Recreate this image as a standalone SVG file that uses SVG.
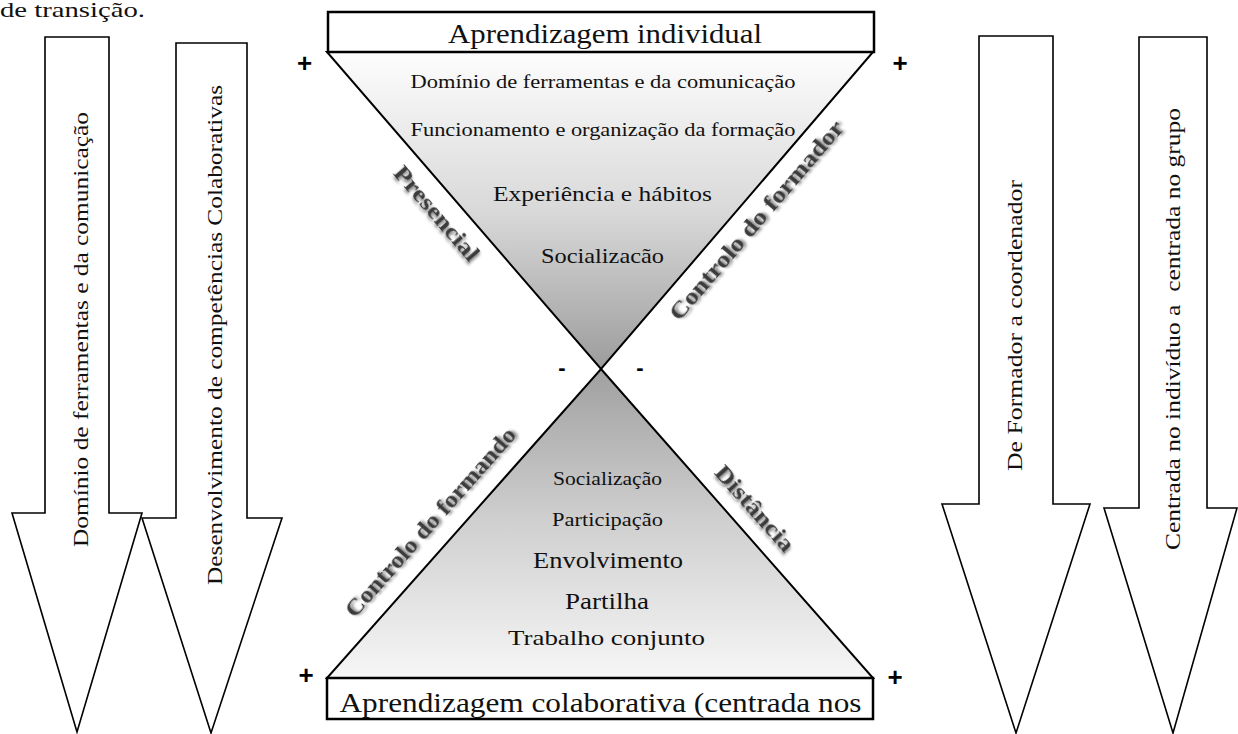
<svg xmlns="http://www.w3.org/2000/svg" width="1238" height="734" viewBox="0 0 1238 734">
<defs>
<style>
.t{font-family:"Liberation Serif","DejaVu Serif",serif;fill:#111;}
.d{font-family:"Liberation Serif","DejaVu Serif",serif;font-weight:bold;fill:#3a3a3a;filter:url(#sh);}
.p{font-family:"Liberation Sans","DejaVu Sans",sans-serif;font-weight:bold;fill:#000;}
.arrow{fill:#fff;stroke:#000;stroke-width:1.6;stroke-linejoin:miter;}
.box{fill:#fff;stroke:#000;stroke-width:2.5;}
.tri{stroke:#000;stroke-width:2;stroke-linejoin:miter;}
</style>
<linearGradient id="gUp" x1="0" y1="0" x2="0" y2="1">
<stop offset="0" stop-color="#fdfdfd"/>
<stop offset="0.5" stop-color="#d9d9d9"/>
<stop offset="1" stop-color="#9c9c9c"/>
</linearGradient>
<linearGradient id="gDn" x1="0" y1="0" x2="0" y2="1">
<stop offset="0" stop-color="#a0a0a0"/>
<stop offset="0.5" stop-color="#d0d0d0"/>
<stop offset="1" stop-color="#f6f6f6"/>
</linearGradient>
<filter id="sh" x="-20%" y="-60%" width="140%" height="220%">
<feGaussianBlur in="SourceAlpha" stdDeviation="1.5" result="b"/>
<feOffset in="b" dx="1.5" dy="1.5" result="o"/>
<feFlood flood-color="#000" flood-opacity="0.5"/>
<feComposite in2="o" operator="in" result="s"/>
<feMerge><feMergeNode in="s"/><feMergeNode in="SourceGraphic"/></feMerge>
</filter>
</defs>
<rect width="1238" height="734" fill="#fff"/>

<text class="t" x="0" y="17" font-size="21" textLength="145" lengthAdjust="spacingAndGlyphs">de transição.</text>

<g id="arrow-left-1">
<polygon class="arrow" points="45,37 109,37 109,513 142,513 77,732 12,513 45,513"/>
<text class="t" transform="translate(88 329.5) rotate(-90)" x="0" y="0" font-size="22" text-anchor="middle" textLength="435" lengthAdjust="spacingAndGlyphs">Domínio de ferramentas e da comunicação</text>
</g>
<g id="arrow-left-2">
<polygon class="arrow" points="176,43 247,43 247,518 282,518 211,733 142,518 176,518"/>
<text class="t" transform="translate(222 335) rotate(-90)" x="0" y="0" font-size="22" text-anchor="middle" textLength="500" lengthAdjust="spacingAndGlyphs">Desenvolvimento de competências Colaborativas</text>
</g>
<g id="arrow-right-1">
<polygon class="arrow" points="979,36 1053,36 1053,504 1090,504 1016,733 942,504 979,504"/>
<text class="t" transform="translate(1022 325.5) rotate(-90)" x="0" y="0" font-size="22" text-anchor="middle" textLength="291" lengthAdjust="spacingAndGlyphs">De Formador a coordenador</text>
</g>
<g id="arrow-right-2">
<polygon class="arrow" points="1139,37 1207,37 1207,508 1237,508 1173,733 1104,508 1139,508"/>
<text class="t" transform="translate(1180 329) rotate(-90)" x="0" y="0" font-size="22" text-anchor="middle" textLength="442" lengthAdjust="spacingAndGlyphs" xml:space="preserve">Centrada no indivíduo a  centrada no grupo</text>
</g>

<g id="upper-triangle">
<polygon class="tri" fill="url(#gUp)" points="327,52 873,52 601,369"/>
<text class="t" x="603" y="88" font-size="19" text-anchor="middle" textLength="385" lengthAdjust="spacingAndGlyphs">Domínio de ferramentas e da comunicação</text>
<text class="t" x="603" y="136" font-size="19" text-anchor="middle" textLength="385" lengthAdjust="spacingAndGlyphs">Funcionamento e organização da formação</text>
<text class="t" x="602.5" y="201" font-size="22" text-anchor="middle" textLength="219" lengthAdjust="spacingAndGlyphs">Experiência e hábitos</text>
<text class="t" x="602.5" y="263" font-size="21" text-anchor="middle" textLength="123" lengthAdjust="spacingAndGlyphs">Socializacão</text>
</g>

<g id="lower-triangle">
<polygon class="tri" fill="url(#gDn)" points="601,369 873,678 327,678"/>
<text class="t" x="607.5" y="485" font-size="18" text-anchor="middle" textLength="109" lengthAdjust="spacingAndGlyphs">Socialização</text>
<text class="t" x="607.5" y="526" font-size="19" text-anchor="middle" textLength="111" lengthAdjust="spacingAndGlyphs">Participação</text>
<text class="t" x="608" y="568" font-size="22.5" text-anchor="middle" textLength="150" lengthAdjust="spacingAndGlyphs">Envolvimento</text>
<text class="t" x="607" y="609" font-size="22.5" text-anchor="middle" textLength="84" lengthAdjust="spacingAndGlyphs">Partilha</text>
<text class="t" x="606.5" y="645" font-size="22" text-anchor="middle" textLength="197" lengthAdjust="spacingAndGlyphs">Trabalho conjunto</text>
</g>

<g id="top-box">
<rect class="box" x="328" y="12" width="546" height="40"/>
<text class="t" x="605" y="43" font-size="28" text-anchor="middle" textLength="314" lengthAdjust="spacingAndGlyphs">Aprendizagem individual</text>
</g>

<g id="bottom-box">
<rect class="box" x="327" y="678" width="546" height="41"/>
<text class="t" x="600.5" y="712" font-size="28" text-anchor="middle" textLength="522" lengthAdjust="spacingAndGlyphs">Aprendizagem colaborativa (centrada nos</text>
</g>

<g id="side-labels">
<text class="d" transform="translate(437 213) rotate(49.2)" x="0" y="8" font-size="24" text-anchor="middle" textLength="118" lengthAdjust="spacingAndGlyphs">Presencial</text>
<text class="d" transform="translate(756 220) rotate(-49.4)" x="0" y="8" font-size="24" text-anchor="middle" textLength="255" lengthAdjust="spacingAndGlyphs">Controlo do formador</text>
<text class="d" transform="translate(430 522) rotate(-48.4)" x="0" y="8" font-size="24" text-anchor="middle" textLength="245" lengthAdjust="spacingAndGlyphs">Controlo do formando</text>
<text class="d" transform="translate(755 508) rotate(48.4)" x="0" y="8" font-size="24" text-anchor="middle" textLength="107" lengthAdjust="spacingAndGlyphs">Distância</text>
</g>

<g id="signs">
<text class="p" x="304.5" y="72" font-size="26" text-anchor="middle">+</text>
<text class="p" x="900" y="72" font-size="26" text-anchor="middle">+</text>
<text class="p" x="306" y="684" font-size="26" text-anchor="middle">+</text>
<text class="p" x="895" y="686" font-size="26" text-anchor="middle">+</text>
<text class="p" x="562" y="375" font-size="22" text-anchor="middle">-</text>
<text class="p" x="640" y="375" font-size="22" text-anchor="middle">-</text>
</g>

<g id="connectors"/>
</svg>
